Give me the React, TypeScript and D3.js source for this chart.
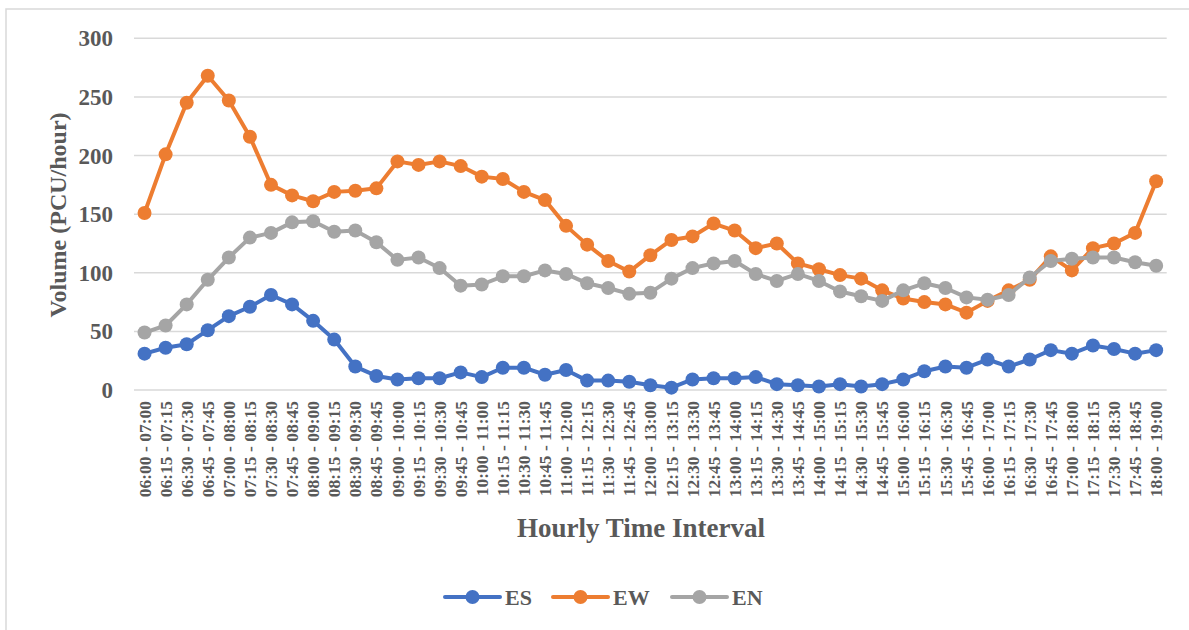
import React, { useRef, useEffect } from 'react';
import * as d3 from 'd3';

const startTimes = [
  '06:00', '06:15', '06:30', '06:45', '07:00', '07:15', '07:30', '07:45',
  '08:00', '08:15', '08:30', '08:45', '09:00', '09:15', '09:30', '09:45',
  '10:00', '10:15', '10:30', '10:45', '11:00', '11:15', '11:30', '11:45',
  '12:00', '12:15', '12:30', '12:45', '13:00', '13:15', '13:30', '13:45',
  '14:00', '14:15', '14:30', '14:45', '15:00', '15:15', '15:30', '15:45',
  '16:00', '16:15', '16:30', '16:45', '17:00', '17:15', '17:30', '17:45', '18:00',
];
const endTimes = [
  '07:00', '07:15', '07:30', '07:45', '08:00', '08:15', '08:30', '08:45',
  '09:00', '09:15', '09:30', '09:45', '10:00', '10:15', '10:30', '10:45',
  '11:00', '11:15', '11:30', '11:45', '12:00', '12:15', '12:30', '12:45',
  '13:00', '13:15', '13:30', '13:45', '14:00', '14:15', '14:30', '14:45',
  '15:00', '15:15', '15:30', '15:45', '16:00', '16:15', '16:30', '16:45',
  '17:00', '17:15', '17:30', '17:45', '18:00', '18:15', '18:30', '18:45', '19:00',
];
const intervals = startTimes.map((s, i) => `${s} - ${endTimes[i]}`);

const esValues = [
  31, 36, 39, 51, 63, 71, 81, 73, 59, 43, 20, 12, 9, 10, 10, 15, 11, 19, 19, 13,
  17, 8, 8, 7, 4, 2, 9, 10, 10, 11, 5, 4, 3, 5, 3, 5, 9, 16, 20, 19,
  26, 20, 26, 34, 31, 38, 35, 31, 34,
];
const ewValues = [
  151, 201, 245, 268, 247, 216, 175, 166, 161, 169, 170, 172, 195, 192, 195, 191, 182, 180, 169, 162,
  140, 124, 110, 101, 115, 128, 131, 142, 136, 121, 125, 108, 103, 98, 95, 85, 78, 75, 73, 66,
  76, 85, 94, 114, 102, 121, 125, 134, 178,
];
const enValues = [
  49, 55, 73, 94, 113, 130, 134, 143, 144, 135, 136, 126, 111, 113, 104, 89, 90, 97, 97, 102,
  99, 91, 87, 82, 83, 95, 104, 108, 110, 99, 93, 99, 93, 84, 80, 76, 85, 91, 87, 79,
  77, 81, 96, 110, 112, 113, 113, 109, 106,
];

const seriesNames = ['ES', 'EW', 'EN'];
const seriesColors = ['#4472C4', '#ED7D31', '#A5A5A5'];
const yTicks = [0, 50, 100, 150, 200, 250, 300];

const W = 1189;
const H = 630;
const FONT = "'Liberation Serif', 'DejaVu Serif', serif";
const TEXT = '#595959';

export default function App() {
  const ref = useRef<SVGSVGElement>(null);

  useEffect(() => {
    const svg = d3.select(ref.current);
    svg.selectAll('*').remove();

    const x = d3.scaleBand().domain(intervals).range([134, 1166.7]);
    const y = d3.scaleLinear().domain([0, 300]).range([390, 38.3]);
    const cx = (d: string) => (x(d) as number) + x.bandwidth() / 2;

    // chart area border (left and top only visible)
    svg.append('path')
      .attr('d', `M6,${H} V9 H${W}`)
      .attr('fill', 'none')
      .attr('stroke', '#D9D9D9')
      .attr('stroke-width', 1.5);

    // gridlines
    svg.append('g')
      .selectAll('line')
      .data(yTicks)
      .enter()
      .append('line')
      .attr('x1', 134)
      .attr('x2', 1166.7)
      .attr('y1', (d) => y(d))
      .attr('y2', (d) => y(d))
      .attr('stroke', '#D9D9D9')
      .attr('stroke-width', 1.5);

    const txt = svg.append('g')
      .style('font-family', FONT)
      .style('font-weight', 'bold')
      .attr('fill', TEXT);

    // y tick labels
    txt.append('g')
      .selectAll('text')
      .data(yTicks)
      .enter()
      .append('text')
      .attr('x', 113)
      .attr('y', (d) => y(d))
      .attr('dy', '0.35em')
      .attr('text-anchor', 'end')
      .style('font-size', '23px')
      .text((d) => d);

    // x tick labels
    txt.append('g')
      .selectAll('text')
      .data(intervals)
      .enter()
      .append('text')
      .attr('transform', (d) => `translate(${cx(d)},401) rotate(-90)`)
      .attr('dy', '0.35em')
      .attr('text-anchor', 'end')
      .style('font-size', '17.5px')
      .text((d) => d);

    // axis titles
    txt.append('text')
      .attr('transform', 'translate(58,215) rotate(-90)')
      .attr('dy', '0.35em')
      .attr('text-anchor', 'middle')
      .style('font-size', '24px')
      .text('Volume (PCU/hour)');

    txt.append('text')
      .attr('x', 641)
      .attr('y', 537)
      .attr('text-anchor', 'middle')
      .style('font-size', '27px')
      .text('Hourly Time Interval');

    // series
    const allSeries = [esValues, ewValues, enValues];
    const line = d3.line<number>()
      .x((_, i) => cx(intervals[i]))
      .y((d) => y(d));

    allSeries.forEach((vals, s) => {
      const g = svg.append('g');
      g.append('path')
        .attr('d', line(vals))
        .attr('fill', 'none')
        .attr('stroke', seriesColors[s])
        .attr('stroke-width', 4)
        .attr('stroke-linejoin', 'round')
        .attr('stroke-linecap', 'round');
      g.selectAll('circle')
        .data(vals)
        .enter()
        .append('circle')
        .attr('cx', (_, i) => cx(intervals[i]))
        .attr('cy', (d) => y(d))
        .attr('r', 7)
        .attr('fill', seriesColors[s]);
    });

    // legend
    const legendX = [445, 553, 672];
    const legend = svg.append('g');
    seriesNames.forEach((name, s) => {
      const lx = legendX[s];
      legend.append('line')
        .attr('x1', lx)
        .attr('x2', lx + 55)
        .attr('y1', 597)
        .attr('y2', 597)
        .attr('stroke', seriesColors[s])
        .attr('stroke-width', 4)
        .attr('stroke-linecap', 'round');
      legend.append('circle')
        .attr('cx', lx + 27.5)
        .attr('cy', 597)
        .attr('r', 7)
        .attr('fill', seriesColors[s]);
      legend.append('text')
        .attr('x', lx + 60)
        .attr('y', 597)
        .attr('dy', '0.35em')
        .style('font-family', FONT)
        .style('font-weight', 'bold')
        .style('font-size', '22px')
        .attr('fill', TEXT)
        .text(name);
    });
  }, []);

  return (
    <svg
      ref={ref}
      width={W}
      height={H}
      style={{ position: 'absolute', left: 0, top: 0, background: '#fff' }}
    ></svg>
  );
}
